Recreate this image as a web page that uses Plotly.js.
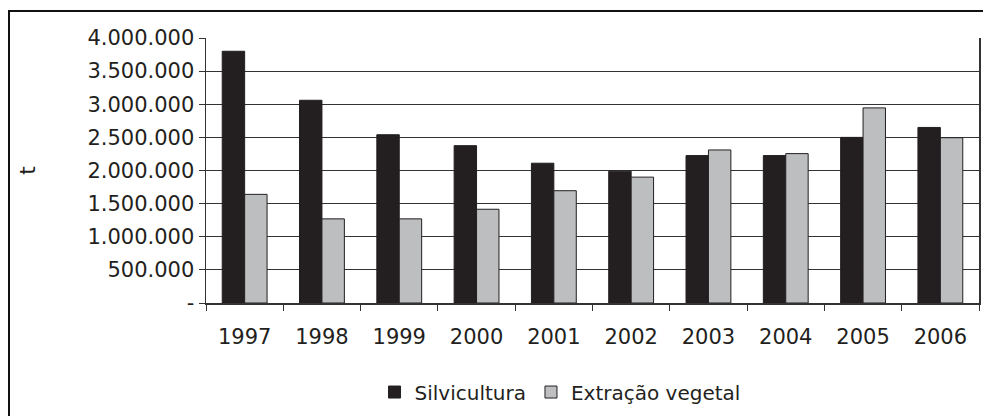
<!DOCTYPE html>
<html>
<head>
<meta charset="utf-8">
<script src="https://cdn.plot.ly/plotly-3.0.1.min.js"></script>
<style>
  html, body { margin: 0; padding: 0; background: #fff; overflow: hidden; }
  #wrap { position: relative; width: 983px; height: 416px; overflow: hidden; }
  #chart { position: absolute; left: 0; top: 0; width: 983px; height: 416px; }
  #frame { position: absolute; left: 8px; top: 10px; width: 990px; height: 430px; border: 2px solid #111; pointer-events: none; }
</style>
</head>
<body>
<div id="wrap">
  <div id="chart"></div>
  <div id="frame"></div>
</div>
<script>
const years = ["1997", "1998", "1999", "2000", "2001", "2002", "2003", "2004", "2005", "2006"];
const silvicultura = [3800000, 3060000, 2540000, 2375000, 2110000, 1990000, 2225000, 2225000, 2500000, 2650000];
const extracaoVegetal = [1640000, 1270000, 1270000, 1415000, 1695000, 1900000, 2310000, 2255000, 2945000, 2495000];
const yTickVals = [0, 500000, 1000000, 1500000, 2000000, 2500000, 3000000, 3500000, 4000000];
const yTickText = ["-", "500.000", "1.000.000", "1.500.000", "2.000.000", "2.500.000", "3.000.000", "3.500.000", "4.000.000"];
const seriesNames = ["Silvicultura", "Extração vegetal"];
const yTitle = "t";

const font = { family: "DejaVu Sans, sans-serif", size: 21, color: "#231f20" };

const traces = [
  {
    type: "bar", name: seriesNames[0], x: years, y: silvicultura,
    marker: { color: "#231f20", line: { color: "#231f20", width: 1 } }
  },
  {
    type: "bar", name: seriesNames[1], x: years, y: extracaoVegetal,
    marker: { color: "#bcbec0", line: { color: "#231f20", width: 1 } }
  }
];

const layout = {
  width: 983, height: 416,
  margin: { l: 206, r: 4, t: 38, b: 113 },
  paper_bgcolor: "rgba(0,0,0,0)", plot_bgcolor: "#fff",
  font: font,
  barmode: "group", bargap: 0.42, bargroupgap: 0,
  showlegend: true,
  legend: {
    orientation: "h", x: 0.458, xanchor: "center", y: -0.336, yanchor: "middle",
    font: { family: "DejaVu Sans, sans-serif", size: 20, color: "#231f20" },
    itemwidth: 30, tracegroupgap: 0
  },
  xaxis: {
    type: "category", tickson: "boundaries", ticks: "outside", ticklen: 6, tickwidth: 1, tickcolor: "#333",
    showline: true, linecolor: "#333", linewidth: 1.5, showgrid: false, mirror: false,
    tickfont: font, ticklabelstandoff: 14, fixedrange: true
  },
  yaxis: {
    range: [0, 4000000], tickvals: yTickVals, ticktext: yTickText,
    ticks: "outside", ticklen: 6, tickwidth: 1, tickcolor: "#333",
    showline: true, linecolor: "#333", linewidth: 1.5, mirror: true,
    showgrid: true, gridcolor: "#333", gridwidth: 1, zeroline: false,
    tickfont: font, automargin: false, fixedrange: true,
    title: { text: yTitle, standoff: 45, font: { family: "DejaVu Sans, sans-serif", size: 22, color: "#231f20" } }
  }
};

Plotly.newPlot("chart", traces, layout, { displayModeBar: false, staticPlot: true });
</script>
</body>
</html>
